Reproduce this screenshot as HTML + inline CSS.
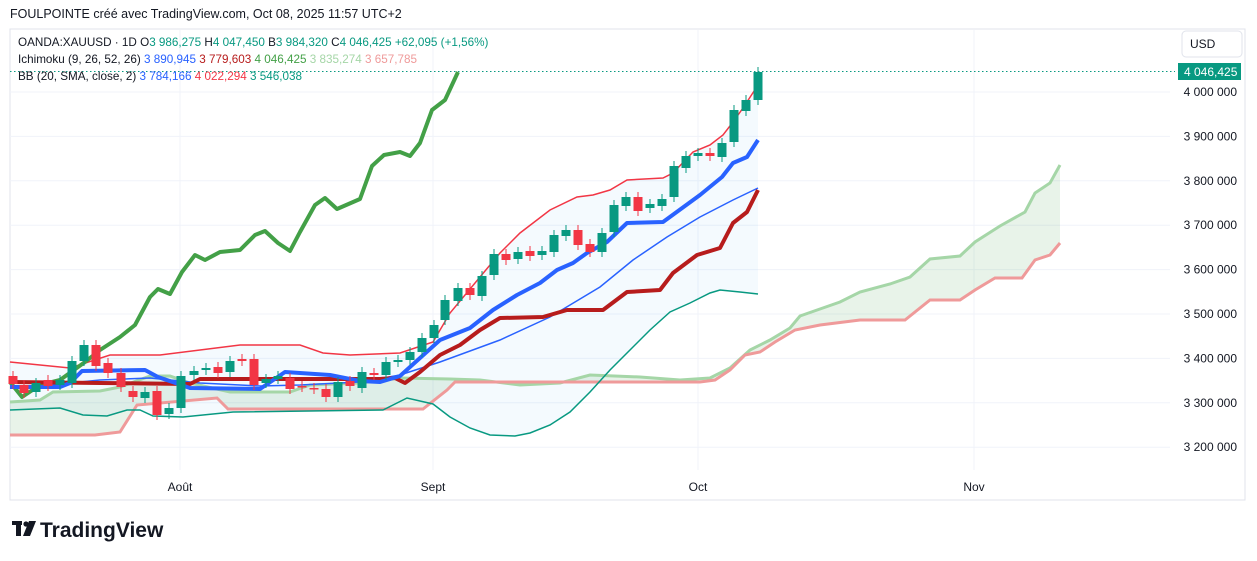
<!DOCTYPE html>
<html><head><meta charset="utf-8">
<style>
body{margin:0;background:#fff;width:1257px;height:561px;overflow:hidden;font-family:"Liberation Sans",sans-serif;}
svg{position:absolute;left:0;top:0}
</style></head>
<body>
<svg id="s" width="1257" height="561" xmlns="http://www.w3.org/2000/svg" font-family="Liberation Sans, sans-serif">
<text x="10" y="18" font-size="12.5" fill="#131722">FOULPOINTE créé avec TradingView.com, Oct 08, 2025 11:57 UTC+2</text>
<rect x="10" y="29" width="1235" height="471" fill="none" stroke="#e0e3eb"/>
<g id="grid" stroke="#f0f3fa" stroke-width="1"></g>
<g id="plot"></g>
<line x1="10" y1="71.5" x2="1175" y2="71.5" stroke="#089981" stroke-dasharray="1.5,2.5"/>
<rect x="1182" y="31" width="60" height="26" rx="4" fill="#fff" stroke="#e0e3eb"/>
<text x="1190" y="48" font-size="12" fill="#131722">USD</text>
<rect x="1178" y="63" width="63" height="17" fill="#089981"/>
<text x="1184" y="76" font-size="12" fill="#fff">4 046,425</text>
<g id="yl" font-size="12" fill="#131722" text-anchor="end"></g>
<g font-size="12" fill="#131722" text-anchor="middle">
<text x="180" y="491">Août</text><text x="433" y="491">Sept</text><text x="698" y="491">Oct</text><text x="974" y="491">Nov</text>
</g>
<g font-size="11.7">
<text x="18" y="46" fill="#131722">OANDA:XAUUSD · 1D  O<tspan fill="#089981">3 986,275</tspan>  H<tspan fill="#089981">4 047,450</tspan>  B<tspan fill="#089981">3 984,320</tspan>  C<tspan fill="#089981">4 046,425</tspan>  <tspan fill="#089981">+62,095 (+1,56%)</tspan></text>
<text x="18" y="63" fill="#131722">Ichimoku (9, 26, 52, 26)  <tspan fill="#2962ff">3 890,945</tspan>  <tspan fill="#b71c1c">3 779,603</tspan>  <tspan fill="#43a047">4 046,425</tspan>  <tspan fill="#a5d6a7">3 835,274</tspan>  <tspan fill="#ef9a9a">3 657,785</tspan></text>
<text x="18" y="80" fill="#131722">BB (20, SMA, close, 2)  <tspan fill="#2962ff">3 784,166</tspan>  <tspan fill="#f23645">4 022,294</tspan>  <tspan fill="#089981">3 546,038</tspan></text>
</g>
<g transform="translate(12,521)">
<rect x="0" y="0" width="10" height="4" fill="#131722"/><rect x="4" y="0" width="5" height="15" fill="#131722"/>
<circle cx="14" cy="3" r="2.6" fill="#131722"/><polygon points="17,0 24,0 18,15 11,15" fill="#131722"/>
<text x="28" y="16" font-size="21" font-weight="bold" fill="#131722">TradingView</text>
</g>
</svg>
<script>
const NS="http://www.w3.org/2000/svg";
function el(p,t,a){const e=document.createElementNS(NS,t);for(const k in a)e.setAttribute(k,a[k]);p.appendChild(e);return e;}
const grid=document.getElementById('grid'),plot=document.getElementById('plot'),yl=document.getElementById('yl');
const lbl=["4 000 000","3 900 000","3 800 000","3 700 000","3 600 000","3 500 000","3 400 000","3 300 000","3 200 000"];
for(let i=0;i<9;i++){const y=92+i*44.4;el(grid,'line',{x1:10,x2:1170,y1:y,y2:y});const t=el(yl,'text',{x:1237,y:y+4});t.textContent=lbl[i];}
[180,433,698,974].forEach(x=>el(grid,'line',{x1:x,x2:x,y1:30,y2:470}));
function pts(a){return a.map(p=>p.join(',')).join(' ');}
const bbU=[[10,362],[70,368],[110,355],[160,355],[240,345],[300,345],[323,353],[350,355],[400,353],[433,342],[450,313],[500,253],[520,233],[550,210],[577,197],[593,195],[610,190],[627,180],[663,178],[673,173],[693,152],[710,145],[723,135],[733,122],[743,108],[758,85]];
const bbL=[[10,410],[60,408],[83,415],[107,416],[127,410],[140,410],[153,416],[183,417],[233,412],[383,410],[407,398],[433,404],[450,417],[470,428],[490,435],[515,436],[530,433],[550,425],[570,412],[590,392],[610,370],[630,350],[650,330],[670,312],[690,303],[710,293],[720,290],[740,292],[758,294]];
const bbM=[[10,388],[60,384],[100,380],[150,378],[200,383],[260,386],[300,385],[360,382],[400,375],[440,362],[500,340],[550,317],[600,287],[633,260],[667,237],[700,217],[733,200],[758,188]];
const spA=[[10,402],[40,400],[53,392],[100,391],[120,387],[150,376],[170,376],[190,383],[230,392],[290,392],[310,385],[360,383],[400,378],[450,379],[480,380],[520,385],[560,383],[590,375],[640,377],[680,380],[710,378],[730,368],[750,350],[770,340],[790,328],[800,316],[820,309],[840,302],[860,292],[890,284],[910,277],[930,259],[960,256],[975,242],[1000,226],[1025,212],[1035,193],[1050,183],[1060,165]];
const spB=[[10,435],[95,435],[120,432],[137,405],[217,398],[228,409],[423,409],[447,390],[455,382],[700,382],[715,380],[730,370],[745,355],[760,352],[775,342],[795,330],[820,325],[860,320],[905,320],[930,300],[960,300],[975,290],[995,278],[1022,278],[1035,260],[1050,255],[1060,243]];
el(plot,'polygon',{points:pts(bbU.concat(bbL.slice().reverse())),fill:'rgba(33,150,243,0.05)'});
el(plot,'polygon',{points:pts(spA.concat(spB.slice().reverse())),fill:'rgba(67,160,71,0.12)'});
el(plot,'polyline',{points:pts(spA),fill:'none',stroke:'#a5d6a7',"stroke-width":3});
el(plot,'polyline',{points:pts(spB),fill:'none',stroke:'#ef9a9a',"stroke-width":3});
el(plot,'polyline',{points:pts(bbU),fill:'none',stroke:'#f23645',"stroke-width":1.5});
el(plot,'polyline',{points:pts(bbL),fill:'none',stroke:'#089981',"stroke-width":1.5});
el(plot,'polyline',{points:pts(bbM),fill:'none',stroke:'#2962ff',"stroke-width":1.5});
const chik=[[10,382],[22,397],[40,385],[60,380],[85,362],[100,350],[120,337],[135,325],[150,297],[158,289],[170,294],[182,272],[195,255],[205,260],[220,252],[240,250],[255,235],[265,231],[278,243],[290,251],[300,232],[315,205],[325,198],[337,209],[360,199],[372,166],[384,155],[400,152],[410,156],[420,143],[432,110],[445,100],[458,72]];
el(plot,'polyline',{points:pts(chik),fill:'none',stroke:'#43a047',"stroke-width":4,"stroke-linejoin":"round"});
const kij=[[10,382],[100,383],[190,384],[200,379],[380,379],[395,378],[405,383],[420,372],[440,355],[460,345],[480,330],[500,318],[543,317],[567,310],[603,310],[627,292],[660,290],[673,273],[697,255],[720,248],[733,223],[747,212],[758,190]];
el(plot,'polyline',{points:pts(kij),fill:'none',stroke:'#b71c1c',"stroke-width":4,"stroke-linejoin":"round"});
const ten2=[[10,387],[60,387],[70,383],[82,371],[145,370],[158,377],[190,388],[260,389],[285,372],[330,375],[360,381],[380,382],[400,376],[420,358],[440,340],[470,328],[493,310],[517,295],[540,283],[557,270],[573,263],[587,253],[607,242],[627,223],[663,222],[700,195],[722,177],[733,163],[747,157],[758,140]];
el(plot,'polyline',{points:pts(ten2),fill:'none',stroke:'#2962ff',"stroke-width":4,"stroke-linejoin":"round"});
const C=[[13,376,384,0],[24,385,393,0],[36,392,383,1],[48,380,386,0],[60,385,380,1],[72,383,361,1],[84,361,345,1],[96,345,366,0],[108,363,373,0],[121,373,387,0],[133,391,397,0],[145,398,392,1],[157,391,415,0],[169,414,408,1],[181,408,376,1],[194,375,371,1],[206,370,368,1],[218,367,373,0],[230,372,361,1],[242,359,361,0],[254,359,385,0],[266,383,379,1],[278,379,376,1],[290,378,389,0],[302,386,387,0],[314,388,389,0],[326,389,397,0],[338,397,382,1],[350,381,386,0],[362,388,372,1],[374,373,375,0],[386,375,362,1],[398,362,360,1],[410,360,352,1],[422,352,338,1],[434,338,325,1],[445,320,300,1],[458,301,288,1],[470,288,295,0],[482,296,276,1],[494,275,254,1],[506,254,260,0],[518,259,252,1],[530,251,256,0],[542,255,251,1],[554,252,235,1],[566,236,230,1],[578,230,245,0],[590,244,252,0],[602,252,233,1],[614,232,205,1],[626,206,197,1],[638,197,211,0],[650,208,204,1],[662,206,199,1],[674,197,166,1],[686,168,156,1],[698,156,153,1],[710,153,156,0],[722,157,143,1],[734,142,110,1],[746,111,100,1],[758,100,72,1]];
C.forEach(c=>{const col=c[3]?'#089981':'#f23645';const t=Math.min(c[1],c[2]),b=Math.max(c[1],c[2]);
el(plot,'line',{x1:c[0],x2:c[0],y1:t-5,y2:b+5,stroke:col,"stroke-width":1});
el(plot,'rect',{x:c[0]-4.5,y:t,width:9,height:Math.max(b-t,1.5),fill:col});});
</script>
</body></html>
